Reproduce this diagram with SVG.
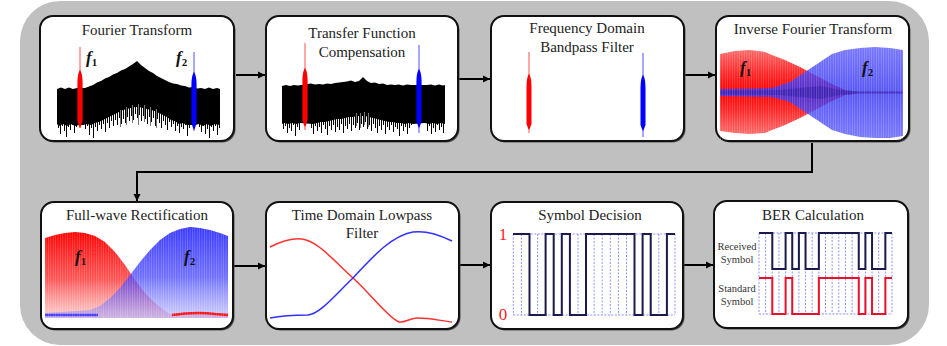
<svg xmlns="http://www.w3.org/2000/svg" width="947" height="346" viewBox="0 0 947 346">
<defs>
<style>
.box{fill:#fff;stroke:#111;stroke-width:2}
.shadow{fill:#555}
.title{font-family:"Liberation Serif","Times New Roman",serif;font-size:15px;fill:#222;text-anchor:middle}
.flab{font-family:"Liberation Serif","Times New Roman",serif;font-size:17px;font-style:italic;font-weight:bold;fill:#111}
.sub{font-size:11px;font-style:normal}
.small{font-family:"Liberation Serif","Times New Roman",serif;font-size:10.5px;fill:#333;text-anchor:middle}
.ax{font-family:"Liberation Serif","Times New Roman",serif;font-size:17px;fill:#f22;text-anchor:middle}
.conn{fill:none;stroke:#000;stroke-width:2}
.grid{fill:none;stroke:#6666ff;stroke-width:0.7;stroke-dasharray:2 1.5}
.sig{fill:none;stroke:#1a1a4e;stroke-width:2}
.sigr{fill:none;stroke:#e8102a;stroke-width:2}
.spike{fill:none;stroke:#000;stroke-width:1}
.gspike{fill:none;stroke:#777;stroke-width:1}
.thinr{stroke:#ff5050;stroke-width:1}
.thinb{stroke:#5050ff;stroke-width:1}
</style>
<marker id="ah" markerWidth="8" markerHeight="8" refX="7" refY="4" orient="auto" markerUnits="userSpaceOnUse"><path d="M0,0.5 L7,4 L0,7.5 z" fill="#000"/></marker>
<pattern id="stripes" width="2.4" height="10" patternUnits="userSpaceOnUse"><rect x="0" y="0" width="0.8" height="10" fill="#fff" fill-opacity="0.22"/></pattern>
<linearGradient id="r4" x1="0" y1="0" x2="0" y2="1"><stop offset="0" stop-color="#ff6a6a"/><stop offset="0.3" stop-color="#ff2020"/><stop offset="0.5" stop-color="#ff0000"/><stop offset="0.7" stop-color="#ff2020"/><stop offset="1" stop-color="#ff6a6a"/></linearGradient>
<linearGradient id="b4" x1="0" y1="0" x2="0" y2="1"><stop offset="0" stop-color="#5a5aff"/><stop offset="0.5" stop-color="#3030f0"/><stop offset="1" stop-color="#5a5aff"/></linearGradient>
<linearGradient id="r5" x1="0" y1="0" x2="0" y2="1"><stop offset="0" stop-color="#ff0000" stop-opacity="1"/><stop offset="0.55" stop-color="#ff2a2a" stop-opacity="0.8"/><stop offset="1" stop-color="#ff9090" stop-opacity="0.45"/></linearGradient>
<linearGradient id="b5" x1="0" y1="0" x2="0" y2="1"><stop offset="0" stop-color="#2f2fff" stop-opacity="0.95"/><stop offset="0.55" stop-color="#4040ff" stop-opacity="0.75"/><stop offset="1" stop-color="#9090ff" stop-opacity="0.45"/></linearGradient>
</defs>

<rect x="20" y="1" width="909" height="344" rx="40" fill="#c0c0c0"/>

<g id="connectors">
<path class="conn" d="M236 75 H265" marker-end="url(#ah)"/>
<path class="conn" d="M459 79 H490" marker-end="url(#ah)"/>
<path class="conn" d="M685 75 H715" marker-end="url(#ah)"/>
<path class="conn" d="M812 143 V172 H137 V201" marker-end="url(#ah)"/>
<path class="conn" d="M234 266 H265" marker-end="url(#ah)"/>
<path class="conn" d="M460 265 H490" marker-end="url(#ah)"/>
<path class="conn" d="M684 265 H713" marker-end="url(#ah)"/>
</g>

<g id="n1">
<rect class="shadow" x="41.5" y="17.5" width="194" height="125" rx="13"/>
<rect class="box" x="40" y="16" width="194" height="125" rx="13"/>
<text class="title" x="137" y="35">Fourier Transform</text>
<path fill="#000" d="M57,89 61,87.5 65,89 69,87.5 73,89 77,88 85,88 89,86.5 93,85 97,82.5 101,81 105,78.5 109,77 113,74.5 117,73 121,70.5 125,69 129,66.5 133,64 137,61 141,65 145,68 149,71 153,73 157,76 161,78 165,80 169,82 173,83.5 177,84 181,85.5 185,86 189,87.5 193,87 197,88.5 201,88 205,89 209,87.5 213,89 217,88 220,89 220,125 215,124 211,126 207,124 203,126 199,124 195,125 187,125 183,123 179,124 175,121 171,120 167,117 163,115 159,113 155,111 151,110 147,109 143,108 139,107 135,107 131,108 127,109 123,110 119,112 115,114 111,116 107,118 103,120 99,122 95,123 91,125 87,124 83,125 79,125 75,126 71,124 67,126 63,124 59,126 57,124Z"/>
<g transform="translate(0.5,0)">
<path class="spike" d="M58 120V128M60 121V134M62 120V126M64 121V131M66 120V137M68 121V127M70 120V130M72 121V125M74 120V133M76 121V127M85 121V129M87 120V126M89 121V135M91 120V128M93 121V138M95 120V127M97 119V131M99 119V125M101 118V129M103 117V124M105 116V132M107 115V123M109 114V128M111 113V121M113 112V126M115 111V120M117 110V125M119 109V118M121 108V124M123 107V119M125 106V123M127 106V117M129 105V121M131 105V116M133 104V120M135 104V114M137 104V118M139 104V115M141 104V121M143 105V116M145 105V119M147 106V124M149 106V117M151 107V122M153 108V118M155 108V126M157 109V119M159 110V123M161 111V128M163 112V121M165 113V125M167 114V130M169 115V122M171 116V127M173 117V124M175 118V131M177 119V126M179 120V133M181 120V127M183 121V129M185 121V125M187 121V136M189 121V128M199 121V127M201 121V132M203 122V126M205 121V134M207 122V129M209 121V138M211 122V127M213 121V131M215 122V126M217 121V135M219 122V128"/>
<path class="gspike" d="M120 110V127M126 107V125M132 105V123M138 104V125M144 105V122M150 107V126M156 109V128"/>
</g>
<line class="thinr" x1="80" y1="47" x2="80" y2="128"/>
<path fill="#ff0000" d="M80 70C81.5 72 82.6 76 82.6 84L82.6 121L81 126L80 128L79 126L77.4 121L77.4 84C77.4 76 78.5 72 80 70Z"/>
<line class="thinb" x1="194" y1="52" x2="194" y2="131"/>
<path fill="#0000ff" d="M194 72C195.5 74 196.6 78 196.6 86L196.6 123L195 128L194 130L193 128L191.4 123L191.4 86C191.4 78 192.5 74 194 72Z"/>
<text class="flab" x="86" y="63">f<tspan class="sub" dy="3">1</tspan></text>
<text class="flab" x="176" y="63">f<tspan class="sub" dy="3">2</tspan></text>
</g>

<g id="n2">
<rect class="shadow" x="267.5" y="17.5" width="192" height="125" rx="13"/>
<rect class="box" x="266" y="16" width="192" height="125" rx="13"/>
<text class="title" x="362" y="38">Transfer Function</text>
<text class="title" x="362" y="57">Compensation</text>
<path fill="#000" d="M282,86 286,85 290,86 294,85 298,85.5 311,83.5 315,84.5 319,84 323,84.5 327,83.5 331,84 335,83 339,82.5 343,82 347,81.5 351,80.5 355,82 359,81 363,77 367,81 371,83 375,82.5 379,84 383,83.5 387,85 391,84.5 395,85 399,84.5 403,85.5 407,84.5 411,85 427,85 431,84.5 435,85.5 439,84.5 443,85.5 445,85 445,124 441,123 437,124 433,123 429,124 425,123 413,124 409,123 405,124 401,123 397,123 393,122 389,122 385,121 381,120 377,119 373,118 369,117 365,116 361,116 357,116 353,117 349,117 345,118 341,119 337,119 333,120 329,121 325,122 321,122 317,123 313,124 300,123 296,124 292,123 288,124 284,123 282,124Z"/>
<g transform="translate(0.5,0)">
<path class="spike" d="M283 120V129M285 121V126M287 120V133M289 121V128M291 120V131M293 121V125M295 120V136M297 121V127M299 120V130M311 120V128M313 121V134M315 120V126M317 121V131M319 120V127M321 119V133M323 120V125M325 119V129M327 118V135M329 118V126M331 118V130M333 117V125M335 117V132M337 116V127M339 117V130M341 116V124M343 116V133M345 115V126M347 115V129M349 114V124M351 114V131M353 114V125M355 113V128M357 113V123M359 113V130M361 113V124M363 112V127M365 113V122M367 113V129M369 114V125M371 114V131M373 115V124M375 115V128M377 116V133M379 116V126M381 117V130M383 117V125M385 118V134M387 118V127M389 119V130M391 119V125M393 120V132M395 120V127M397 120V129M399 121V136M401 120V126M403 121V131M405 120V127M407 121V134M409 120V128M411 121V125M427 120V131M429 121V126M431 120V134M433 121V128M435 120V132M437 121V125M439 120V130M441 121V127M443 120V133"/>
<path class="gspike" d="M356 113V126M360 113V128M364 112V125M368 113V127"/>
</g>
<line class="thinr" x1="305" y1="43" x2="305" y2="130"/>
<path fill="#ff0000" d="M305 68C306.5 70 307.6 74 307.6 82L307.6 120L306 125L305 127L304 125L302.4 120L302.4 82C302.4 74 303.5 70 305 68Z"/>
<line class="thinb" x1="419" y1="45" x2="419" y2="133"/>
<path fill="#0000ff" d="M419 69C420.5 71 421.6 75 421.6 83L421.6 121L420 126L419 128L418 126L416.4 121L416.4 83C416.4 75 417.5 71 419 69Z"/>
</g>

<g id="n3">
<rect class="shadow" x="492.5" y="17.5" width="193" height="125" rx="13"/>
<rect class="box" x="491" y="16" width="193" height="125" rx="13"/>
<text class="title" x="587" y="33">Frequency Domain</text>
<text class="title" x="587" y="52">Bandpass Filter</text>
<line class="thinr" x1="529" y1="52" x2="529" y2="133"/>
<path fill="#ff0000" d="M529 74C530.5 76 531.5 80 531.5 88L531.5 124L530 128L529 130L528 128L526.5 124L526.5 88C526.5 80 527.5 76 529 74Z"/>
<line class="thinb" x1="643" y1="53" x2="643" y2="137"/>
<path fill="#0000ff" d="M643 75C644.5 77 645.5 81 645.5 89L645.5 125L644 129L643 131L642 129L640.5 125L640.5 89C640.5 81 641.5 77 643 75Z"/>
</g>

<g id="n4">
<rect class="shadow" x="717.5" y="17.5" width="193" height="125" rx="13"/>
<rect class="box" x="716" y="16" width="193" height="125" rx="13"/>
<text class="title" x="813" y="34">Inverse Fourier Transform</text>
<path fill="url(#r4)" d="M720,54 735,51 750,50 765,52 772,55 785,60 800,67 815,75 830,83 845,90 855,92 855,94 845,95 830,102 815,110 800,118 785,125 772,130 765,133 750,134 735,133 720,131Z"/>
<path fill="url(#b4)" fill-opacity="0.82" d="M720,89 772,88 790,82 805,72 820,62 832,54 845,50 860,48 875,47 890,48 903,50 903,136 890,138 875,138 860,137 845,134 832,130 820,122 805,112 790,102 772,97 720,96Z"/>
<path fill="#3a20b0" fill-opacity="0.8" d="M720,90.5 780,90 800,88 820,86 840,90 860,91.5 903,91.5 903,93.5 860,93.5 840,95 820,99 800,97 780,95 720,94.5Z"/>
<rect x="720" y="46" width="183" height="94" fill="url(#stripes)"/>
<text class="flab" x="740" y="73">f<tspan class="sub" dy="3">1</tspan></text>
<text class="flab" x="862" y="73">f<tspan class="sub" dy="3">2</tspan></text>
</g>

<g id="n5">
<rect class="shadow" x="42.5" y="203.5" width="192" height="127" rx="13"/>
<rect class="box" x="41" y="202" width="192" height="127" rx="13"/>
<text class="title" x="137" y="220">Full-wave Rectification</text>
<path fill="url(#r5)" d="M45,238 55,235 65,233 75,232 85,233 95,236 105,242 115,252 125,265 135,280 145,293 155,303 165,311 172,315 185,313 200,312 215,313 228,314 228,318 45,318Z"/>
<path fill="url(#b5)" d="M45,313 60,312 75,311 90,310 100,306 110,298 120,288 130,275 140,262 150,250 160,240 170,233 180,229 190,227 200,228 210,230 220,233 228,236 228,318 45,318Z"/>
<path fill="none" stroke="#2a2aff" stroke-width="2.5" stroke-opacity="0.85" d="M45 315 H98"/>
<path fill="none" stroke="#ff1010" stroke-width="2.5" d="M172 315 C185 313 200 312 215 314 L228 315"/>
<rect x="45" y="228" width="183" height="91" fill="url(#stripes)"/>
<text class="flab" x="75" y="262">f<tspan class="sub" dy="3">1</tspan></text>
<text class="flab" x="184" y="262">f<tspan class="sub" dy="3">2</tspan></text>
</g>

<g id="n6">
<rect class="shadow" x="267.5" y="203.5" width="193" height="127" rx="13"/>
<rect class="box" x="266" y="202" width="193" height="127" rx="13"/>
<text class="title" x="362" y="220">Time Domain Lowpass</text>
<text class="title" x="362" y="238">Filter</text>
<path fill="none" stroke="#ff3030" stroke-width="1.5" d="M270 247C282 241 293 238 302 239C318 241 335 262 353 278C370 293 388 318 399 322C405 323 410 318 418 318C430 318 442 321 452 322"/>
<path fill="none" stroke="#3030ff" stroke-width="1.5" d="M270 318C280 316 296 315 308 315C320 314 335 295 353 278C370 260 390 236 413 232C428 230 442 236 452 241"/>
</g>

<g id="n7">
<rect class="shadow" x="492.5" y="203.5" width="192" height="127" rx="13"/>
<rect class="box" x="491" y="202" width="192" height="127" rx="13"/>
<text class="title" x="590" y="220">Symbol Decision</text>
<text class="ax" x="503" y="240">1</text>
<text class="ax" x="503" y="320">0</text>
<path class="grid" d="M513.3 234H675M513.3 315H675M513.3 234V315M521.4 234V315M529.5 234V315M537.6 234V315M545.6 234V315M553.7 234V315M561.8 234V315M569.9 234V315M578 234V315M586 234V315M594.1 234V315M602.2 234V315M610.3 234V315M618.4 234V315M626.5 234V315M634.5 234V315M642.6 234V315M650.7 234V315M658.8 234V315M666.9 234V315M675 234V315"/>
<path class="sig" d="M513 234H529.5V315H545.6V234H553.7V315H561.8V234H569.9V315H586V234H634.5V315H642.6V234H650.7V315H666.9V234H675"/>
</g>

<g id="n8">
<rect class="shadow" x="715.5" y="202.5" width="194" height="127" rx="13"/>
<rect class="box" x="714" y="201" width="194" height="127" rx="13"/>
<text class="title" x="813" y="220">BER Calculation</text>
<text class="small" x="737" y="250">Received</text>
<text class="small" x="737" y="263">Symbol</text>
<text class="small" x="737" y="292">Standard</text>
<text class="small" x="737" y="305">Symbol</text>
<path class="grid" d="M759 233H892M759 314H892M759 233V314M765.65 233V314M772.3 233V314M778.95 233V314M785.6 233V314M792.25 233V314M798.9 233V314M805.55 233V314M812.2 233V314M818.85 233V314M825.5 233V314M832.15 233V314M838.8 233V314M845.45 233V314M852.1 233V314M858.75 233V314M865.4 233V314M872.05 233V314M878.7 233V314M885.35 233V314M892 233V314"/>
<path class="sig" d="M759 233H772.3V269H785.6V233H792.25V269H798.9V233H805.55V269H818.85V233H858.75V269H865.4V233H872.05V269H885.35V233H892"/>
<path class="sigr" d="M759 278H772.3V314H785.6V278H792.25V314H818.85V278H858.75V314H865.4V278H872.05V314H885.35V278H892"/>
</g>
</svg>
